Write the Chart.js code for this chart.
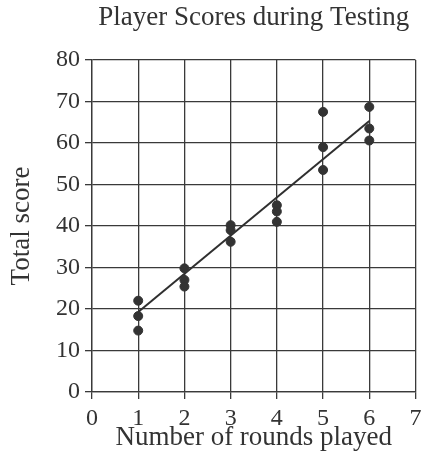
<!DOCTYPE html>
<html>
<head>
<meta charset="utf-8">
<script src="https://cdn.jsdelivr.net/npm/chart.js@4"></script>
<style>
  html, body { margin: 0; padding: 0; background: #fff; }
  #wrap { width: 421px; height: 464px; }
</style>
</head>
<body>
<div id="wrap"><canvas id="chart" width="421" height="464"></canvas></div>
<script>
const roundsPlayed = [1, 1, 1, 2, 2, 2, 3, 3, 3, 4, 4, 4, 5, 5, 5, 6, 6, 6];
const totalScores = [22, 18.3, 14.8, 29.8, 27, 25.4, 40.2, 39, 36.2, 45, 43.5, 41, 67.5, 59, 53.5, 68.7, 63.5, 60.6];
const fitRounds = [1, 6];
const fitScores = [19.3, 65.3];
const xTicks = [0, 1, 2, 3, 4, 5, 6, 7];
const yTicks = [0, 10, 20, 30, 40, 50, 60, 70, 80];

const ink = "#333333";
const serif = "'Liberation Serif', 'DejaVu Serif', serif";

const scatterPoints = roundsPlayed.map((x, i) => ({ x, y: totalScores[i] }));
const fitPoints = fitRounds.map((x, i) => ({ x, y: fitScores[i] }));

new Chart(document.getElementById("chart"), {
  type: "scatter",
  data: {
    datasets: [
      {
        label: "Players",
        data: scatterPoints,
        backgroundColor: ink,
        borderColor: ink,
        pointRadius: 4.5,
        pointHoverRadius: 4.5
      },
      {
        type: "line",
        label: "Fit",
        data: fitPoints,
        borderColor: "#2f2f2f",
        borderWidth: 2,
        pointRadius: 0,
        fill: false
      }
    ]
  },
  options: {
    responsive: false,
    animation: false,
    layout: { padding: { right: 5, left: 0, top: 0, bottom: 0 } },
    plugins: {
      legend: { display: false },
      tooltip: { enabled: false },
      title: {
        display: true,
        text: "Player Scores during Testing",
        color: ink,
        fullSize: false,
        font: { family: serif, size: 27, weight: "normal" },
        padding: { top: 2, bottom: 25.6 }
      }
    },
    scales: {
      x: {
        type: "linear",
        min: 0,
        max: 7,
        afterBuildTicks(scale) {
          scale.ticks = xTicks.map((value) => ({ value }));
        },
        afterFit(scale) {
          scale.height = 72;
          scale.paddingLeft = 0;
          scale.paddingRight = 0;
        },
        ticks: {
          color: ink,
          font: { family: serif, size: 24 },
          padding: 5,
          maxRotation: 0,
          autoSkip: false
        },
        grid: { color: "#3a3a3a", lineWidth: 1.3, tickLength: 7, tickColor: "#3a3a3a" },
        border: { color: "#3a3a3a", width: 1.3 },
        title: {
          display: true,
          text: "Number of rounds played",
          color: ink,
          font: { family: serif, size: 27 },
          padding: { top: 0, bottom: 10 }
        }
      },
      y: {
        min: 0,
        max: 80,
        afterBuildTicks(scale) {
          scale.ticks = yTicks.map((value) => ({ value }));
        },
        afterFit(scale) {
          scale.width = 92;
        },
        ticks: {
          color: ink,
          font: { family: serif, size: 24 },
          padding: 5
        },
        grid: { color: "#3a3a3a", lineWidth: 1.3, tickLength: 7, tickColor: "#3a3a3a" },
        border: { color: "#3a3a3a", width: 1.3 },
        title: {
          display: true,
          text: "Total score",
          color: ink,
          font: { family: serif, size: 27 },
          padding: { top: 6, bottom: 0 }
        }
      }
    }
  }
});
</script>
</body>
</html>
